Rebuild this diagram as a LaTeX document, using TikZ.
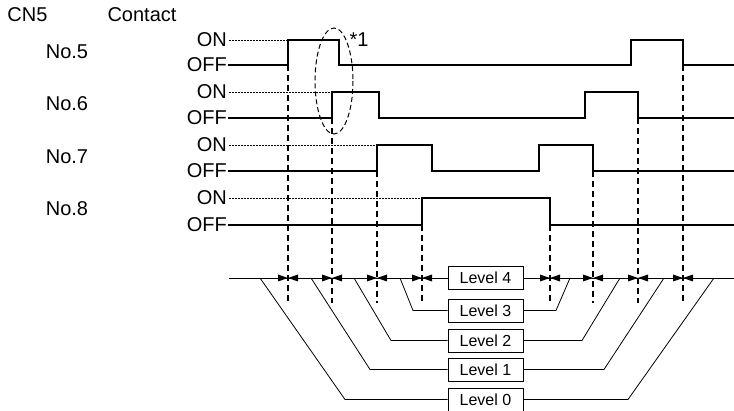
\documentclass[tikz,border=0pt]{standalone}
\usepackage{fontspec}
\setmainfont{Liberation Sans}
\begin{document}
\begin{tikzpicture}[x=1pt,y=-1pt,
  lbl/.style={font=\fontsize{20}{24}\selectfont, inner sep=0pt},
  lvl/.style={draw, line width=0.8pt, minimum width=75pt, minimum height=23pt, inner sep=0pt, fill=white, font=\fontsize{16}{19}\selectfont},
  wave/.style={line width=2.6pt, line join=miter},
  ondot/.style={line width=0.7pt, dash pattern=on 1.8pt off 1.2pt},
  guide/.style={line width=1.3pt, dash pattern=on 6pt off 4pt},
  thin/.style={line width=0.8pt},
  ring/.style={line width=1pt, dash pattern=on 5pt off 3pt}]
\useasboundingbox (0,0) rectangle (734,411);
% headings
\node[lbl] (cn5) at (27.5,15) {CN5};
\node[lbl] (contact) at (142,15) {Contact};
\node[lbl] (no5) at (67,52) {No.5};
\node[lbl] (no6) at (67,104) {No.6};
\node[lbl] (no7) at (67,157) {No.7};
\node[lbl] (no8) at (67,209) {No.8};
% ON/OFF labels
\foreach \n/\on/\off in {5/40/65, 6/92/118, 7/145/171, 8/198/225}{
  \node[lbl, anchor=east] (on\n) at (227,\on) {ON};
  \node[lbl, anchor=east] (off\n) at (227,\off) {OFF};
}
% dotted ON guides
\coordinate (e5) at (288,40);
\coordinate (e6) at (332,92);
\coordinate (e7) at (377,145);
\coordinate (e8) at (422,198);
\foreach \n in {5,6,7,8}{ \draw[ondot] (on\n.east) ++(2,0) -- (e\n); }
% dashed vertical guides
\foreach \x/\y in {288/65, 332/118, 377/171, 422/225, 550/225, 593/171, 638/118, 683/65}{
  \draw[guide] (\x,\y) -- (\x,303);
}
% waveforms
\draw[wave] (off5.east) ++(1,0) -- (288,65) -- (288,40) -- (339,40) -- (339,65) -- (631,65) -- (631,40) -- (683,40) -- (683,65) -- (734,65);
\draw[wave] (off6.east) ++(1,0) -- (332,118) -- (332,92) -- (379,92) -- (379,118) -- (585,118) -- (585,92) -- (638,92) -- (638,118) -- (734,118);
\draw[wave] (off7.east) ++(1,0) -- (377,171) -- (377,145) -- (432,145) -- (432,171) -- (539,171) -- (539,145) -- (593,145) -- (593,171) -- (734,171);
\draw[wave] (off8.east) ++(1,0) -- (422,225) -- (422,198) -- (550,198) -- (550,225) -- (734,225);
% ellipse and note
\draw[ring] (334,81) ellipse [x radius=19, y radius=53];
\node[lbl] (note) at (359,40) {*1};
% timeline
\coordinate (tl) at (229,278);
\coordinate (tr) at (734,278);
\draw[thin] (tl) -- (tr);
\foreach \x in {288, 332, 377, 422, 550, 593, 638, 683}{
  \fill (\x,278) -- (\x-10,274.5) -- (\x-10,281.5) -- cycle;
  \fill (\x,278) -- (\x+10,274.5) -- (\x+10,281.5) -- cycle;
}
% level boxes
\node[lvl] (L4) at (485.5,277.5) {Level 4};
\node[lvl] (L3) at (485.5,310.5) {Level 3};
\node[lvl] (L2) at (485.5,340.5) {Level 2};
\node[lvl] (L1) at (485.5,369.5) {Level 1};
\node[lvl] (L0) at (485.5,399.5) {Level 0};
% brackets
\draw[thin] (L3.west) -- (413,310.5) -- (400,278);
\draw[thin] (L3.east) -- (556,310.5) -- (570,278);
\draw[thin] (L2.west) -- (391,340.5) -- (354,278);
\draw[thin] (L2.east) -- (582,340.5) -- (620,278);
\draw[thin] (L1.west) -- (370,369.5) -- (311,278);
\draw[thin] (L1.east) -- (604,369.5) -- (664,278);
\draw[thin] (L0.west) -- (345,399.5) -- (260,278);
\draw[thin] (L0.east) -- (628,399.5) -- (714,278);
\end{tikzpicture}
\end{document}
